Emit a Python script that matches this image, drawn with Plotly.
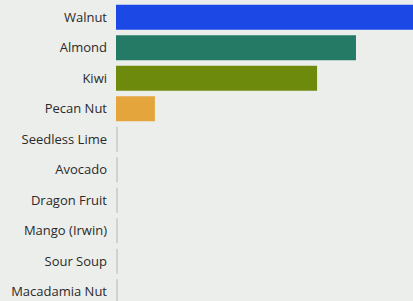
import plotly.graph_objects as go

categories = ["Walnut", "Almond", "Kiwi", "Pecan Nut", "Seedless Lime", "Avocado",
              "Dragon Fruit", "Mango (Irwin)", "Sour Soup", "Macadamia Nut"]
values = [100, 80.8, 67.7, 13.1, 0.6, 0.6, 0.6, 0.6, 0.6, 0.6]
colors = ["#1c48e6", "#257a66", "#6e8a0c", "#e3a53c", "#cfd2d0", "#cfd2d0",
          "#cfd2d0", "#cfd2d0", "#cfd2d0", "#cfd2d0"]

fig = go.Figure(go.Bar(
    x=values, y=categories, orientation="h",
    marker=dict(color=colors, line=dict(width=0)),
))

fig.update_layout(
    width=413, height=301,
    margin=dict(l=116, r=0, t=2, b=0),
    paper_bgcolor="#eceeec", plot_bgcolor="#eceeec",
    bargap=0.18,
    showlegend=False,
    font=dict(family="Open Sans, Liberation Sans, sans-serif", size=13, color="#2a2a2a"),
    xaxis=dict(range=[0, 100], visible=False, fixedrange=True),
    yaxis=dict(range=[9.30, -0.5], showgrid=False, zeroline=False,
               ticks="", ticklabelstandoff=8, tickfont=dict(size=13, color="#2a2a2a"),
               automargin=False, fixedrange=True),
)

fig.write_html("out.html", config={"displayModeBar": False},
               post_script="document.body.style.margin='0';document.body.style.background='#eceeec';")
